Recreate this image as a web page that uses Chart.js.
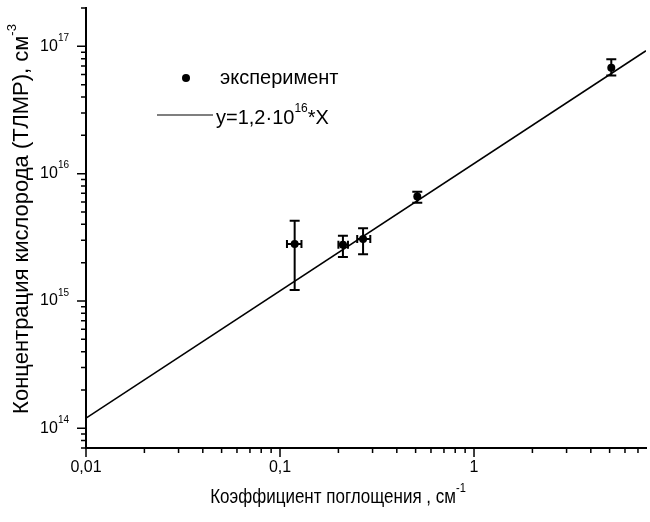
<!DOCTYPE html>
<html><head><meta charset="utf-8">
<script src="https://cdn.jsdelivr.net/npm/chart.js@4"></script>
<style>html,body{margin:0;padding:0;background:#fff;overflow:hidden}#wrap{width:650px;height:522px;position:relative}</style>
</head><body><div id="wrap"><canvas id="c" width="650" height="522"></canvas></div>
<script>
// ---- data ----
const expX     = [0.119, 0.211, 0.268, 0.51, 5.1];
const expY     = [2.8e15, 2.76e15, 3.06e15, 6.6e15, 6.8e16];
const expYLow  = [1.22e15, 2.21e15, 2.33e15, 5.9e15, 5.9e16];
const expYHigh = [4.27e15, 3.25e15, 3.73e15, 7.2e15, 7.9e16];
const expXLow  = [0.1086, 0.200, 0.250, null, null];
const expXHigh = [0.129, 0.224, 0.292, null, null];
const fitX = [0.01, 7.7];
const fitY = [1.2e14, 9.24e16];
const xMajorTicks = [0.01, 0.1, 1];
const xTickLabels = ['0,01', '0,1', '1'];
const yMajorTicks = [1e14, 1e15, 1e16, 1e17];
const yTickBase = '10';
const yTickExp = ['14', '15', '16', '17'];
const xTitle = 'Коэффициент поглощения , см';
const xTitleSup = '-1';
const yTitle = 'Концентрация кислорода (ТЛМР), см';
const yTitleSup = '-3';
const legendExp = 'эксперимент';
const legendFit = ['y=1,2·10', '16', '*X'];

const FONT = '"Liberation Sans", Arial, sans-serif';

function logTicks(scale) {
  const out = [];
  const lo = Math.floor(Math.log10(scale.min)), hi = Math.ceil(Math.log10(scale.max));
  for (let e = lo; e <= hi; e++) {
    for (let m = 1; m <= 9; m++) {
      const v = m * Math.pow(10, e);
      if (v >= scale.min * 0.999 && v <= scale.max * 1.001) out.push({ value: v, major: m === 1 });
    }
  }
  scale.ticks = out;
}

const decor = {
  id: 'decor',
  beforeDatasetsDraw(chart) {
    const ctx = chart.ctx, xs = chart.scales.x, ys = chart.scales.y;
    ctx.save();
    ctx.strokeStyle = '#000';
    ctx.lineWidth = 2;
    for (let i = 0; i < expX.length; i++) {
      const px = xs.getPixelForValue(expX[i]);
      const py = ys.getPixelForValue(expY[i]);
      const yl = ys.getPixelForValue(expYLow[i]);
      const yh = ys.getPixelForValue(expYHigh[i]);
      ctx.beginPath();
      ctx.moveTo(px, yl); ctx.lineTo(px, yh);
      ctx.moveTo(px - 5, yl); ctx.lineTo(px + 5, yl);
      ctx.moveTo(px - 5, yh); ctx.lineTo(px + 5, yh);
      ctx.stroke();
      if (expXLow[i] != null) {
        const xl = xs.getPixelForValue(expXLow[i]);
        const xh = xs.getPixelForValue(expXHigh[i]);
        ctx.beginPath();
        ctx.moveTo(xl, py); ctx.lineTo(xh, py);
        ctx.moveTo(xl, py - 4); ctx.lineTo(xl, py + 4);
        ctx.moveTo(xh, py - 4); ctx.lineTo(xh, py + 4);
        ctx.stroke();
      }
    }
    ctx.restore();
  },
  afterDraw(chart) {
    const ctx = chart.ctx, xs = chart.scales.x, ys = chart.scales.y, a = chart.chartArea;
    ctx.save();
    ctx.strokeStyle = '#000';
    ctx.fillStyle = '#000';
    ctx.lineWidth = 1.5;
    // tick marks
    ctx.beginPath();
    ys.ticks.forEach(t => {
      const p = ys.getPixelForValue(t.value);
      ctx.moveTo(a.left, p); ctx.lineTo(a.left - (t.major ? 9 : 5), p);
    });
    xs.ticks.forEach(t => {
      const p = xs.getPixelForValue(t.value);
      ctx.moveTo(p, a.bottom); ctx.lineTo(p, a.bottom + (t.major ? 9 : 5));
    });
    ctx.stroke();
    // x tick labels
    ctx.font = '16px ' + FONT;
    ctx.textAlign = 'center';
    ctx.textBaseline = 'middle';
    xMajorTicks.forEach((v, i) => {
      ctx.fillText(xTickLabels[i], xs.getPixelForValue(v), a.bottom + 20);
    });
    // y tick labels with superscripts
    yMajorTicks.forEach((v, i) => {
      const p = ys.getPixelForValue(v);
      ctx.font = '10px ' + FONT;
      const we = ctx.measureText(yTickExp[i]).width;
      ctx.textAlign = 'right';
      ctx.fillText(yTickExp[i], a.left - 17, p - 8);
      ctx.font = '16px ' + FONT;
      ctx.fillText(yTickBase, a.left - 17 - we, p);
    });
    ctx.textAlign = 'left';
    // x title (slightly condensed, as in the scanned original)
    ctx.save();
    const sx = 0.85;
    ctx.translate(338, 497);
    ctx.scale(sx, 1);
    ctx.font = '20px ' + FONT;
    const wx = ctx.measureText(xTitle).width;
    ctx.font = '13px ' + FONT;
    const wxs = ctx.measureText(xTitleSup).width;
    ctx.font = '20px ' + FONT;
    ctx.fillText(xTitle, -(wx + wxs) / 2, 0);
    ctx.font = '13px ' + FONT;
    ctx.fillText(xTitleSup, -(wx + wxs) / 2 + wx, -9);
    ctx.restore();
    // y title
    ctx.save();
    ctx.textAlign = 'left';
    ctx.translate(22, 219);
    ctx.rotate(-Math.PI / 2);
    ctx.font = '22px ' + FONT;
    const wy = ctx.measureText(yTitle).width;
    ctx.font = '13px ' + FONT;
    const wys = ctx.measureText(yTitleSup).width;
    ctx.font = '22px ' + FONT;
    ctx.fillText(yTitle, -(wy + wys) / 2, 0);
    ctx.font = '13px ' + FONT;
    ctx.fillText(yTitleSup, -(wy + wys) / 2 + wy, -10);
    ctx.restore();
    // legend
    ctx.textAlign = 'left';
    ctx.beginPath();
    ctx.arc(186, 78, 4, 0, Math.PI * 2);
    ctx.fill();
    ctx.font = '20px ' + FONT;
    ctx.fillText(legendExp, 220, 78);
    ctx.lineWidth = 1.2;
    ctx.beginPath();
    ctx.moveTo(157, 115); ctx.lineTo(213, 115);
    ctx.stroke();
    let lx = 216;
    ctx.font = '20px ' + FONT;
    ctx.fillText(legendFit[0], lx, 118);
    lx += ctx.measureText(legendFit[0]).width;
    ctx.font = '12px ' + FONT;
    ctx.fillText(legendFit[1], lx, 109);
    lx += ctx.measureText(legendFit[1]).width;
    ctx.font = '20px ' + FONT;
    ctx.fillText(legendFit[2], lx, 118);
    ctx.restore();
  }
};

new Chart(document.getElementById('c'), {
  type: 'scatter',
  data: {
    datasets: [
      {
        label: 'эксперимент',
        data: expX.map((x, i) => ({ x, y: expY[i] })),
        pointRadius: 4,
        pointBackgroundColor: '#000',
        pointBorderWidth: 0,
        showLine: false,
        order: 1
      },
      {
        label: 'fit',
        data: fitX.map((x, i) => ({ x, y: fitY[i] })),
        showLine: true,
        borderColor: '#000',
        borderWidth: 1.6,
        pointRadius: 0,
        order: 2
      }
    ]
  },
  options: {
    responsive: false,
    animation: false,
    events: [],
    layout: { padding: { left: 0, right: 0, top: 8, bottom: 0 } },
    plugins: { legend: { display: false }, tooltip: { enabled: false } },
    scales: {
      x: {
        type: 'logarithmic', min: 0.01, max: 7.7,
        afterBuildTicks: logTicks,
        afterFit(s) { s.height = 74; },
        ticks: { display: false },
        grid: { display: false, drawTicks: false },
        border: { display: true, color: '#000', width: 2 }
      },
      y: {
        type: 'logarithmic', min: 7e13, max: 2e17,
        afterBuildTicks: logTicks,
        afterFit(s) { s.width = 86; },
        ticks: { display: false },
        grid: { display: false, drawTicks: false },
        border: { display: true, color: '#000', width: 2 }
      }
    }
  },
  plugins: [decor]
});
</script>
</body></html>
